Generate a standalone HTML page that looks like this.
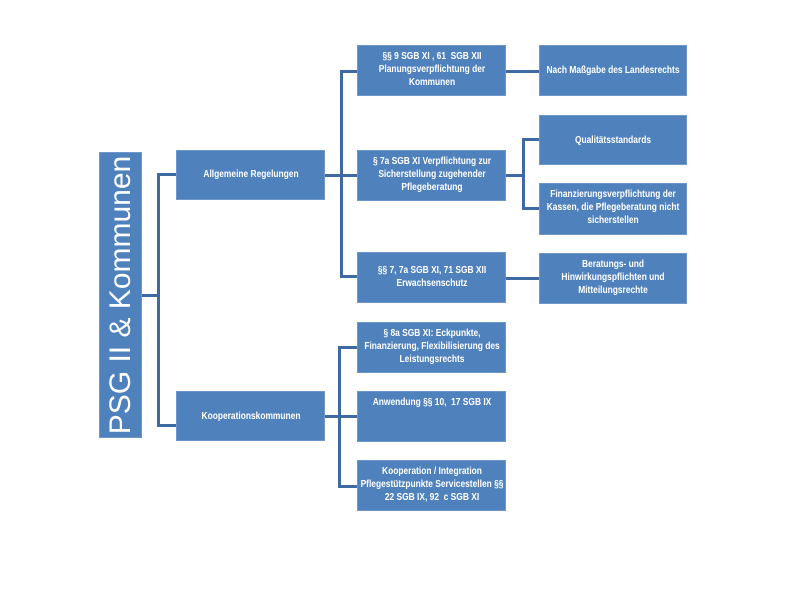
<!DOCTYPE html>
<html><head><meta charset="utf-8"><style>
body{margin:0;width:800px;height:600px;background:#fff;position:relative;overflow:hidden;font-family:"Liberation Sans",sans-serif}
.b{position:absolute;background:#4f81bd;border:1px solid #6e98c9;box-sizing:border-box;color:#fff}
.b span{position:absolute;left:50%;top:4px;transform:translateX(-50%) scaleX(.8);white-space:nowrap;font-size:10.5px;font-weight:bold;text-align:center;line-height:13px}
.l{position:absolute;background:#3d6aa3}
</style></head><body>
<div class="b" style="left:99px;top:152px;width:43px;height:286px"><div style="position:absolute;left:50%;top:50%;transform:translate(-50%,-50%) rotate(-90deg);white-space:nowrap;font-size:30px;line-height:30px">PSG II &amp; Kommunen</div></div>

<div class="b" style="left:176px;top:150px;width:149px;height:50px"><span style="top:17px">Allgemeine Regelungen</span></div>
<div class="b" style="left:176px;top:391px;width:149px;height:50px"><span style="top:18px">Kooperationskommunen</span></div>

<div class="b" style="left:357px;top:45px;width:149px;height:51px"><span>§§ 9 SGB XI , 61 &nbsp;SGB XII<br>Planungsverpflichtung der<br>Kommunen</span></div>
<div class="b" style="left:357px;top:150px;width:149px;height:51px"><span>§ 7a SGB XI Verpflichtung zur<br>Sicherstellung zugehender<br>Pflegeberatung</span></div>
<div class="b" style="left:357px;top:252px;width:149px;height:51px"><span style="top:11px">§§ 7, 7a SGB XI, 71 SGB XII<br>Erwachsenschutz</span></div>
<div class="b" style="left:357px;top:322px;width:149px;height:51px"><span>§ 8a SGB XI: Eckpunkte,<br>Finanzierung, Flexibilisierung des<br>Leistungsrechts</span></div>
<div class="b" style="left:357px;top:391px;width:149px;height:51px"><span>Anwendung §§ 10, &nbsp;17 SGB IX</span></div>
<div class="b" style="left:357px;top:460px;width:149px;height:51px"><span>Kooperation / Integration<br>Pflegestützpunkte Servicestellen §§<br>22 SGB IX, 92 &nbsp;c SGB XI</span></div>

<div class="b" style="left:539px;top:45px;width:148px;height:51px"><span style="top:18px">Nach Maßgabe des Landesrechts</span></div>
<div class="b" style="left:539px;top:115px;width:148px;height:50px"><span style="top:18px">Qualitätsstandards</span></div>
<div class="b" style="left:539px;top:183px;width:148px;height:52px"><span>Finanzierungsverpflichtung der<br>Kassen, die Pflegeberatung nicht<br>sicherstellen</span></div>
<div class="b" style="left:539px;top:253px;width:148px;height:51px"><span>Beratungs- und<br>Hinwirkungspflichten und<br>Mitteilungsrechte</span></div>

<div class="l" style="left:142px;top:294px;width:17px;height:3px"></div>
<div class="l" style="left:157px;top:173px;width:3px;height:254px"></div>
<div class="l" style="left:157px;top:173px;width:19px;height:3px"></div>
<div class="l" style="left:157px;top:424px;width:19px;height:3px"></div>
<div class="l" style="left:325px;top:174px;width:17px;height:3px"></div>
<div class="l" style="left:340px;top:70px;width:3px;height:208px"></div>
<div class="l" style="left:340px;top:70px;width:17px;height:3px"></div>
<div class="l" style="left:340px;top:174px;width:17px;height:3px"></div>
<div class="l" style="left:340px;top:275px;width:17px;height:3px"></div>
<div class="l" style="left:325px;top:415px;width:14px;height:3px"></div>
<div class="l" style="left:338px;top:346px;width:3px;height:142px"></div>
<div class="l" style="left:338px;top:346px;width:19px;height:3px"></div>
<div class="l" style="left:338px;top:415px;width:19px;height:3px"></div>
<div class="l" style="left:338px;top:485px;width:19px;height:3px"></div>
<div class="l" style="left:506px;top:70px;width:33px;height:3px"></div>
<div class="l" style="left:506px;top:174px;width:18px;height:3px"></div>
<div class="l" style="left:522px;top:138px;width:3px;height:72px"></div>
<div class="l" style="left:522px;top:138px;width:17px;height:3px"></div>
<div class="l" style="left:522px;top:207px;width:17px;height:3px"></div>
<div class="l" style="left:506px;top:277px;width:33px;height:3px"></div>
</body></html>
